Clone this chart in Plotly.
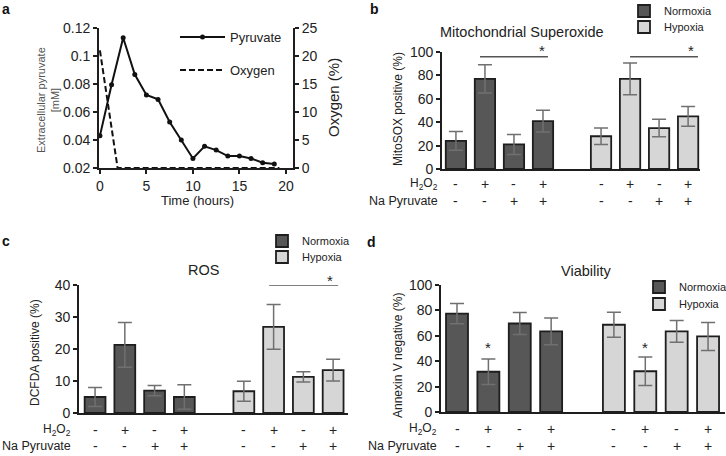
import plotly.graph_objects as go

W, H = 726, 456
def px(x): return x / W
def py(y): return 1 - y / H

FONT = "Liberation Sans"
TXT = "#222222"
DARK = "#575757"
LIGHT = "#d6d6d6"
EDGE = "#1e1e1e"
ERRC = "#707070"

# ---------------- data ----------------
# panel a
time_h = [0, 1.25, 2.5, 3.75, 5, 6.25, 7.5, 8.75, 10, 11.25, 12.5, 13.75, 15, 16.25, 17.5, 18.75]
pyruvate_mM = [0.043, 0.0795, 0.113, 0.0867, 0.0722, 0.069, 0.0528, 0.040,
               0.0268, 0.0355, 0.0328, 0.0285, 0.0285, 0.0268, 0.0238, 0.0228]
oxygen_time = [0, 1.9, 19.3]
oxygen_pct = [21, 0, 0]
a_yticks = [0.02, 0.04, 0.06, 0.08, 0.1, 0.12]
a_yticktext = ["0.02", "0.04", "0.06", "0.08", "0.1", "0.12"]

# bar panels
pos_norm = [0, 1, 2, 3]
pos_hyp = [5, 6, 7, 8]
h2o2_signs = ["-", "+", "-", "+"]
pyr_signs = ["-", "-", "+", "+"]

mito_norm = [24, 77, 21, 41]
mito_norm_err = [8, 12, 8.5, 9.3]
mito_hyp = [28, 77, 35, 45]
mito_hyp_err = [7, 13.5, 7.5, 8.5]

ros_norm = [5.0, 21.3, 7.0, 5.0]
ros_norm_err = [3, 7, 1.6, 3.8]
ros_hyp = [6.8, 26.9, 11.3, 13.4]
ros_hyp_err = [3.1, 7, 1.6, 3.4]

via_norm = [77.5, 31.7, 69.7, 63.5]
via_norm_err = [8, 10, 8.7, 10.5]
via_hyp = [68.7, 32.1, 63.5, 59.5]
via_hyp_err = [9.8, 11.2, 8.5, 11]

fig = go.Figure()

# ---------------- panel a ----------------
fig.add_trace(go.Scatter(x=time_h, y=pyruvate_mM, mode="lines+markers", name="Pyruvate",
                         line=dict(color="#111111", width=2), marker=dict(size=5, color="#111111"),
                         xaxis="x", yaxis="y", legend="legend", cliponaxis=False))
fig.add_trace(go.Scatter(x=oxygen_time, y=oxygen_pct, mode="lines", name="Oxygen",
                         line=dict(color="#111111", width=2, dash="6px,3px"),
                         xaxis="x", yaxis="y5", legend="legend2", cliponaxis=False))

# ---------------- bar panels ----------------
def add_bars(xa, ya, nv, ne, hv, he, leg_n, leg_h):
    for vals, errs, col, name, xs, leg in [(nv, ne, DARK, "Normoxia", pos_norm, leg_n),
                                           (hv, he, LIGHT, "Hypoxia", pos_hyp, leg_h)]:
        fig.add_trace(go.Bar(x=xs, y=vals, name=name, width=0.7,
                             marker=dict(color=col, line=dict(color=EDGE, width=1.8)),
                             error_y=dict(type="data", array=errs, color=ERRC, thickness=1.5, width=7),
                             xaxis=xa, yaxis=ya, legend=leg))

add_bars("x2", "y2", mito_norm, mito_norm_err, mito_hyp, mito_hyp_err, "legend3", "legend4")
add_bars("x3", "y3", ros_norm, ros_norm_err, ros_hyp, ros_hyp_err, "legend5", "legend6")
add_bars("x4", "y4", via_norm, via_norm_err, via_hyp, via_hyp_err, "legend7", "legend8")

axis_common = dict(showline=True, linecolor=EDGE, linewidth=1.8, showgrid=False, zeroline=False,
                   ticks="outside", ticklen=4, tickwidth=1.5, tickcolor=EDGE,
                   tickfont=dict(family=FONT, size=14, color=TXT), automargin=False)
bar_x = dict(showline=True, linecolor=EDGE, linewidth=1.8, showgrid=False, zeroline=False,
             showticklabels=False, ticks="", automargin=False)

def leg(x, y, size, iw=30):
    return dict(x=px(x), y=py(y), xanchor="left", yanchor="middle", font=dict(size=size),
                bgcolor="rgba(0,0,0,0)", borderwidth=0, itemwidth=iw)

layout = dict(
    width=W, height=H, margin=dict(l=0, r=0, t=0, b=0, autoexpand=False),
    paper_bgcolor="white", plot_bgcolor="white", barmode="overlay", hovermode=False,
    font=dict(family=FONT, color=TXT),
    xaxis=dict(domain=[px(99), px(293)], range=[-0.1, 20.76], tickvals=[0, 5, 10, 15, 20],
               anchor="y", **axis_common),
    yaxis=dict(domain=[py(168), py(28)], range=[0.02, 0.12], tickvals=a_yticks, ticktext=a_yticktext,
               anchor="x", **axis_common),
    yaxis5=dict(overlaying="y", side="right", anchor="x", range=[0, 25], tickvals=[0, 5, 10, 15, 20, 25],
                **axis_common),
    xaxis2=dict(domain=[px(442), px(700)], range=[-0.48, 8.41], anchor="y2", **bar_x),
    yaxis2=dict(domain=[py(169), py(52)], range=[0, 100], dtick=20, anchor="x2", **axis_common),
    xaxis3=dict(domain=[px(79), px(348)], range=[-0.54, 8.5], anchor="y3", **bar_x),
    yaxis3=dict(domain=[py(413), py(285)], range=[0, 40], dtick=10, anchor="x3", **axis_common),
    xaxis4=dict(domain=[px(441), px(725)], range=[-0.51, 8.54], anchor="y4", **bar_x),
    yaxis4=dict(domain=[py(412), py(285)], range=[0, 100], dtick=20, anchor="x4", **axis_common),
    legend=leg(175, 37, 13, 45),
    legend2=leg(175, 70, 13, 45),
    legend3=leg(624, 11, 11),
    legend4=leg(624, 27, 11),
    legend5=leg(262, 241, 11),
    legend6=leg(262, 257, 11),
    legend7=leg(639, 287, 11),
    legend8=leg(639, 304, 11),
    showlegend=True,
)
fig.update_layout(**layout)

ann = []
# panel letters
for t, x, y in [("a", 6, 9), ("b", 374, 9), ("c", 6, 241), ("d", 372, 242)]:
    ann.append(dict(text=f"<b>{t}</b>", x=px(x), y=py(y), xref="paper", yref="paper",
                    showarrow=False, font=dict(size=14, color="#111111"), xanchor="center", yanchor="middle"))
# titles
for t, x, y in [("Mitochondrial Superoxide", 522, 32), ("ROS", 203, 270), ("Viability", 586, 271)]:
    ann.append(dict(text=t, x=px(x), y=py(y), xref="paper", yref="paper", showarrow=False,
                    font=dict(size=14.5), xanchor="center", yanchor="middle"))
# axis titles
ann.append(dict(text="Time (hours)", x=px(197), y=py(200), xref="paper", yref="paper", showarrow=False,
                font=dict(size=13), xanchor="center", yanchor="middle"))
ann.append(dict(text="Extracellular pyruvate<br>[mM]", x=px(48), y=py(100), xref="paper", yref="paper",
                showarrow=False, textangle=-90, font=dict(size=11, color="#555555"),
                xanchor="center", yanchor="middle"))
ann.append(dict(text="Oxygen (%)", x=px(333), y=py(98), xref="paper", yref="paper", showarrow=False,
                textangle=-90, font=dict(size=15), xanchor="center", yanchor="middle"))
for t, x, y in [("MitoSOX positive (%)", 398, 109), ("DCFDA positive (%)", 35, 353),
                ("Annexin V negative (%)", 398, 356)]:
    ann.append(dict(text=t, x=px(x), y=py(y), xref="paper", yref="paper", showarrow=False,
                    textangle=-90, font=dict(size=12), xanchor="center", yanchor="middle"))

# sign rows
for xa, r1, r2, lab_x in [("x2", 184, 201, 440), ("x3", 430, 446, 73), ("x4", 429, 446, 439)]:
    ann.append(dict(text="H<sub>2</sub>O<sub>2</sub>", x=px(lab_x), y=py(r1), xref="paper", yref="paper",
                    showarrow=False, font=dict(size=12), xanchor="right", yanchor="middle"))
    ann.append(dict(text="Na Pyruvate", x=px(lab_x), y=py(r2), xref="paper", yref="paper",
                    showarrow=False, font=dict(size=12.5), xanchor="right", yanchor="middle"))
    for xs in (pos_norm, pos_hyp):
        for p, s1, s2 in zip(xs, h2o2_signs, pyr_signs):
            ann.append(dict(text=s1, x=p, y=py(r1), xref=xa, yref="paper", showarrow=False,
                            font=dict(size=14), xanchor="center", yanchor="middle"))
            ann.append(dict(text=s2, x=p, y=py(r2), xref=xa, yref="paper", showarrow=False,
                            font=dict(size=14), xanchor="center", yanchor="middle"))

# significance stars (pixel heights)
stars = [("x2", 2.97, 50), ("x2", 8.1, 50), ("x3", 7.9, 280), ("x4", 1, 347), ("x4", 6, 347)]
for xa, x, y in stars:
    ann.append(dict(text="*", x=x, y=py(y), xref=xa, yref="paper", showarrow=False,
                    font=dict(size=15), xanchor="center", yanchor="middle"))
fig.update_layout(annotations=ann)

shapes = []
for xa, ya, x0, x1, y in [("x2", "y2", 0.83, 3.17, 96), ("x2", "y2", 6.0, 8.34, 96),
                          ("x3", "y3", 5.85, 8.17, 40)]:
    shapes.append(dict(type="line", xref=xa, yref=ya, x0=x0, x1=x1, y0=y, y1=y,
                       line=dict(color="#555555", width=1.5)))
fig.update_layout(shapes=shapes)

fig.write_html("out.html", config={"displayModeBar": False},
               post_script="document.body.style.margin='0';")
